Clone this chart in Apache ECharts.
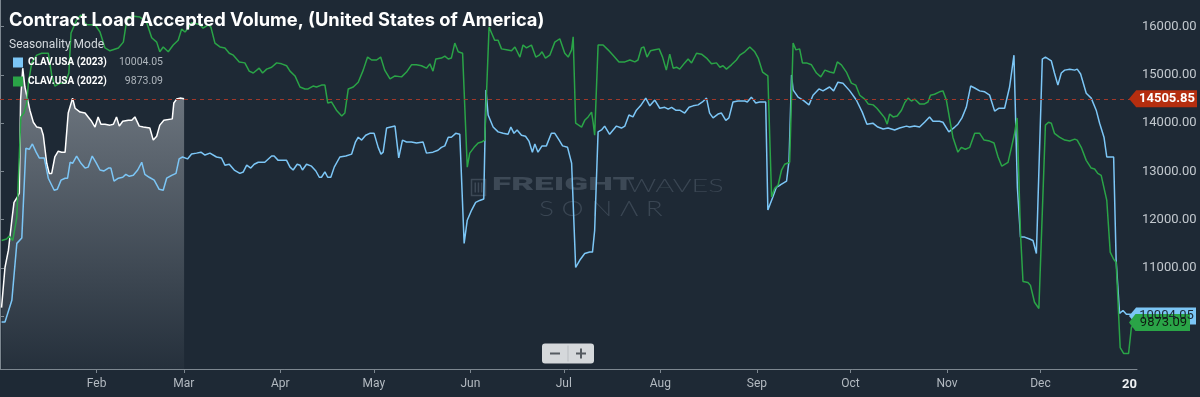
<!DOCTYPE html>
<html>
<head>
<meta charset="utf-8">
<title>Contract Load Accepted Volume</title>
<script src="https://cdn.jsdelivr.net/npm/echarts@6/dist/echarts.min.js"></script>
<style>
  html, body { margin: 0; padding: 0; background: #1e2935; }
  #chart { width: 1200px; height: 397px; }
</style>
</head>
<body>
<div id="chart"></div>
<script>
  // day of year (0 = Jan 1) and value
  const clav2024 = [
    [0.5,10180],[1.6,11010],[2.7,11370],[3.8,11990],[4.5,12360],[5.4,12450],[6.2,12550],[6.6,14480],[7.3,15140],[8,14750],
    [8.9,14480],[9.6,14270],[10.7,14020],[11.8,13920],[13.2,13900],[13.9,13750],[15,13170],[15.8,12960],[16.6,12960],[17.6,13300],
    [18.7,13420],[19.8,13400],[20.9,13400],[21.9,14210],[23.3,14520],[24.1,14310],[25.7,14230],[27.3,14210],[28.3,14130],[29.4,14040],
    [30.5,13920],[31.5,14130],[32.4,13980],[33.7,13980],[35.3,13960],[36.4,13980],[37.4,14130],[38.3,13940],[39.4,14040],[41.2,14060],
    [42.3,14060],[43.3,14130],[44.7,13940],[46,13920],[48.1,13900],[49.2,13650],[50.3,13730],[51.3,13960],[52.6,14060],[55.3,14090],
    [55.8,14420],[56.7,14500],[57.8,14520],[59.1,14505.85]
  ];

  const clav2023 = [
    [0.5,9880],[1.6,9880],[3.8,10330],[5.4,11510],[7,11620],[7.5,11640],[8.3,13480],[9.4,13460],[10.4,13570],[11.6,13400],
    [12.6,13280],[14.2,13280],[15.5,12860],[17.4,12610],[18.4,12630],[19.6,12820],[20.9,12860],[21.7,12860],[22.5,13190],[23.3,13170],
    [24.6,13320],[26,13170],[27.3,13070],[28.3,13090],[29.6,13320],[30.8,13190],[32.1,13030],[33.4,13010],[34.8,13070],[35.6,13070],
    [36.6,12800],[38,12860],[39.4,12880],[40.4,12940],[41.5,12900],[42.8,12920],[44.2,13030],[45.5,13190],[46.5,12940],[47.9,12880],
    [49.5,12820],[51.1,12630],[52.4,12610],[53.5,12860],[55.1,12920],[56.5,12960],[57.5,13260],[58.6,13300],[60.2,13260],[61.5,13360],
    [63.1,13380],[64.5,13400],[65.8,13340],[67.4,13380],[69.5,13300],[71.1,13280],[72.2,13130],[73.6,13150],[75.2,13030],[77,12960],
    [78.1,12990],[79.2,13130],[80.5,13070],[81.6,13150],[82.9,13190],[85,13190],[87.2,13320],[88,13320],[89.3,13230],[92,13230],
    [93.1,13090],[94.1,13030],[95.4,13150],[96.3,13130],[97.1,13030],[98.4,13150],[100,13110],[101.4,13010],[102.5,12880],[103.2,12880],
    [104.3,12990],[105.2,12880],[106.2,12880],[107.3,13090],[109.1,13300],[111,13320],[112.9,13360],[114.1,13610],[115,13710],[116.1,13650],
    [117.4,13750],[118.7,13790],[120.1,13790],[121.4,13500],[122.3,13360],[123,13400],[124.1,13900],[126.8,13940],[127.3,13960],[128,13280],
    [129.2,13650],[130.5,13610],[132.1,13610],[133.7,13590],[135.8,13610],[136.9,13380],[139,13400],[140.6,13440],[141.7,13500],[142.8,13530],
    [143.9,13710],[144.9,13710],[146.3,13790],[147.6,13770],[148.2,13730],[149,11510],[150,11990],[151.4,12200],[152.7,12360],[154,12400],
    [155.3,12430],[156,14690],[156.7,14170],[158.3,13920],[159.9,13820],[161.5,13790],[163.1,13770],[164,13920],[165,13790],[166,13860],
    [167.4,13750],[168.7,13730],[169.8,13630],[170.9,13400],[171.7,13570],[172.7,13400],[174,13530],[175.4,13530],[177,13790],[178.1,13790],
    [179.5,13650],[180.6,13530],[182.2,13500],[183.5,13170],[184.8,11010],[186.1,11160],[187.7,11300],[189.3,11330],[190.2,11330],[190.9,11780],
    [192,13820],[193.1,13860],[194.1,13940],[195.7,13770],[197.9,13940],[199.5,13900],[200.6,13940],[201.9,14170],[203.2,14130],[204.3,14270],
    [205.6,14360],[207.3,14520],[208.6,14360],[210.2,14480],[211.8,14310],[213.4,14330],[214.5,14290],[215.6,14330],[216.9,14270],[218.2,14270],
    [219.8,14210],[221.2,14330],[222.5,14360],[224.1,14380],[225.5,14440],[226.8,14520],[227.8,14210],[228.9,14110],[230.5,14190],[231.6,14210],
    [233,14060],[234,14110],[235.3,14440],[236.9,14460],[239.1,14460],[239.9,14440],[241.2,14540],[242.6,14420],[243.9,14440],[245.8,14440],
    [246.5,12200],[248.1,12470],[249.2,12670],[250.5,12720],[252.5,12800],[253.3,13230],[254.1,15000],[254.6,14690],[256.2,14540],[257.8,14480],
    [259.7,14380],[261,14580],[262.9,14710],[264.2,14670],[266.3,14750],[267.6,14670],[269,14850],[270.6,14830],[272.8,14670],[274.9,14480],
    [276.8,14230],[278.3,13980],[280.2,14000],[281.8,13920],[283.5,13880],[285.1,13900],[287.2,13860],[288.8,13900],[291,13940],[292,13920],
    [293.6,13940],[295.2,13920],[296.8,14020],[298.4,14130],[299.5,14040],[301.6,14040],[302.7,14020],[304.6,13820],[306.5,13920],[307.5,13980],
    [308.8,14110],[310.2,14330],[311.6,14770],[312.9,14730],[314.5,14670],[316.1,14650],[317.7,14580],[319.3,14250],[320.7,14310],[322.5,14310],
    [324.1,14750],[325.5,15410],[326.6,12670],[327.6,11640],[328.9,11640],[330.5,11600],[331.6,11570],[332.7,11300],[334.6,15330],[335.6,15370],
    [337.5,15290],[338.5,15040],[339.6,14790],[340.7,15040],[341.8,15100],[343.4,15120],[345,15100],[345.8,15120],[346.9,15020],[348.7,14620],
    [350.3,14520],[351.9,14270],[353,14000],[354.4,13710],[355.3,13300],[357.5,13300],[358.3,11160],[359.4,10060],[360.5,10120],[361.6,10040],
    [362.8,10040],[364.8,10004.05]
  ];

  const clav2022 = [
    [0.5,11570],[2.1,11600],[3,11660],[4.1,11570],[5.4,12050],[6.7,14130],[7.7,14210],[8.6,14420],[9.1,14830],[10.2,15250],
    [11.8,15410],[13.4,15450],[15.5,15450],[16.6,15000],[17.6,14770],[19.3,14830],[20.9,14830],[22.1,15040],[22.8,15870],[24.6,16140],
    [26,16240],[27.6,16040],[30.5,16040],[32.1,15890],[33.7,15560],[35.3,15500],[38,15560],[39.6,15680],[40.7,16140],[42.3,16220],
    [44.9,16200],[47.1,16080],[48.7,15770],[50.3,15680],[51.3,15480],[52.4,15580],[54,15480],[55.6,15620],[57.2,15720],[58.3,15950],
    [59.4,15890],[60.4,15970],[61.5,16080],[63.1,16060],[64.2,16040],[65.2,15970],[66.8,16040],[67.7,15990],[69,15660],[70.6,15580],
    [72.2,15560],[73.6,15450],[74.9,15410],[76.8,15270],[78.6,15250],[80,15080],[81.3,15040],[83.2,15140],[84.3,15040],[85.6,15120],
    [87.2,15160],[88.8,15250],[90.4,15230],[92,15190],[93.1,15080],[94.7,14980],[96.3,14750],[97.9,14710],[98.9,14710],[100.5,14770],
    [101.6,14750],[103.2,14790],[104.3,14790],[105.2,14420],[106.4,14440],[108,14270],[109.7,14150],[110.7,14210],[111.8,14710],[113.4,14750],
    [115,14850],[116.6,15100],[118,15370],[119.3,15310],[120.9,15310],[122.2,15370],[123.5,15100],[125.2,14920],[126.8,14980],[128.9,14960],
    [130.5,15060],[132.1,15210],[133.7,15210],[135.3,15190],[136.9,15140],[138,15230],[139,15080],[139.9,15330],[141.7,15350],[142.8,15390],
    [143.9,15330],[144.9,15350],[146,15660],[147.1,15480],[148.5,15450],[150,13090],[150.8,13380],[152.2,13500],[153.5,13590],[154.6,13610],
    [155.6,13650],[157,15990],[157.8,15870],[158.8,15720],[159.9,15720],[161,15540],[162.6,15520],[164.2,15500],[165.3,15580],[166.9,15370],
    [167.9,15620],[169,15560],[170.6,15620],[172,15370],[173.1,15410],[174,15480],[175.1,15350],[176.5,15410],[178.1,15680],[179.7,15750],
    [181.3,15450],[182.4,15370],[183.5,15520],[184,15790],[184.8,14000],[186.7,13920],[187.7,14060],[188.8,14130],[189.9,14230],[190.4,14020],
    [190.9,13750],[192,15620],[193.6,15620],[195.2,15520],[196.8,15410],[198.7,15270],[200.6,15270],[202.2,15310],[203.8,15270],[204.8,15310],
    [205.9,15560],[206.7,15580],[207.7,15370],[208.8,15500],[210.2,15520],[211.6,15540],[212.7,15370],[213.9,15100],[215,15430],[216.1,15140],
    [217.2,15160],[218.2,15120],[219.8,15250],[220.9,15330],[222,15250],[223.6,15450],[225.2,15430],[226.8,15350],[228.4,15230],[230,15250],
    [231.1,15160],[232.1,15190],[233.2,15120],[234.8,15210],[236.4,15310],[237.5,15410],[239.1,15480],[240.7,15580],[242.3,15480],[243.4,15350],
    [244.8,15060],[246.5,14980],[247.7,12470],[248.7,12650],[249.8,12720],[250.9,13030],[251.9,13150],[253.5,13190],[254.6,15660],[255.5,15520],
    [256.7,15540],[257.6,15250],[258.9,15250],[260.5,15210],[262.1,15040],[263.5,14960],[264.8,15100],[266.4,15060],[267.7,15040],[268.8,15270],
    [270.1,15210],[271.7,15060],[273.3,14830],[274.7,14790],[276,14580],[277.6,14500],[278.7,14400],[280.3,14380],[281.5,14310],[283,14190],
    [284,14110],[284.8,13980],[285.6,14190],[286.7,14130],[288,14150],[289.4,14270],[290.4,14420],[291.5,14520],[292.6,14460],[293.6,14500],
    [295.2,14400],[296.8,14400],[297.9,14440],[298.7,14580],[300,14600],[301.6,14650],[302.7,14670],[303.8,14480],[304.8,14110],[305.9,13710],
    [307.5,13400],[308.6,13500],[309.9,13460],[311.3,13500],[312.9,13790],[314.5,13790],[315.9,13650],[317.7,13630],[319.1,13590],[320.4,13300],
    [321.6,13110],[323.6,13190],[324.7,13500],[325.7,13790],[326.5,14110],[327.6,11720],[328.4,10720],[330,10700],[330.8,10640],[332.1,10290],
    [333.5,10160],[335.6,13960],[336.6,14020],[337.5,14000],[338.5,13790],[340.1,13710],[341.8,13650],[343.4,13630],[345,13670],[345.8,13650],
    [347.1,13500],[348.7,13230],[350.3,13070],[351.4,13050],[352.4,12960],[353.5,12920],[355.3,12400],[356.4,11330],[357.5,11180],[358.3,11120],
    [359.6,9350],[360.7,9230],[362.3,9230],[363.2,9770],[364.8,9873.09]
  ];

  const monthTickDays = [31, 59, 90, 120, 151, 181, 212, 243, 273, 304, 334];
  const monthTickLabels = ['Feb', 'Mar', 'Apr', 'May', 'Jun', 'Jul', 'Aug', 'Sep', 'Oct', 'Nov', 'Dec'];
  const yearLabelDay = 362.6;
  const yearLabel = '20';
  const yTickValues = [10000, 11000, 12000, 13000, 14000, 15000, 16000];

  const name2023 = 'CLAV.USA (2023)';
  const name2022 = 'CLAV.USA (2022)';
  const name2024 = 'CLAV.USA (2024)';

  const last = arr => arr[arr.length - 1][1];
  const lastLabels = {};
  lastLabels[name2023] = last(clav2023).toFixed(2);
  lastLabels[name2022] = last(clav2022).toFixed(2);

  const tagPath = 'path://M0,8.5L7,0L66,0L66,17L7,17Z';

  function tag(value, bg, fg, w, bold) {
    return {
      symbol: tagPath,
      symbolSize: [w, 17],
      symbolOffset: [w / 2 - 8, 0],
      silent: true,
      animation: false,
      itemStyle: { color: bg },
      label: {
        show: true,
        position: 'inside',
        offset: [4, 0],
        color: fg,
        fontSize: 13,
        fontWeight: bold ? 'bold' : 'normal',
        fontFamily: 'Roboto',
        formatter: () => value.toFixed(2)
      },
      data: [{ coord: [365, value] }]
    };
  }

  const chart = echarts.init(document.getElementById('chart'));

  const option = {
    backgroundColor: '#1e2935',
    animation: false,
    title: [{
      text: 'Contract Load Accepted Volume, (United States of America)',
      left: 4,
      top: 7,
      textStyle: { color: '#ffffff', fontSize: 18.3, fontWeight: 'bold', fontFamily: 'Inter' }
    }, {
      text: 'Seasonality Mode',
      left: 4,
      top: 34,
      textStyle: { color: '#d3d8dd', fontSize: 12, fontWeight: 'normal', fontFamily: 'Roboto' }
    }],
    legend: {
      data: [name2023, name2022],
      orient: 'vertical',
      left: 8,
      top: 52,
      itemWidth: 10,
      itemHeight: 10,
      itemGap: 8,
      icon: 'rect',
      selectedMode: false,
      formatter: name => '{n|' + name + '}{v|' + lastLabels[name] + '}',
      textStyle: {
        rich: {
          n: { color: '#ffffff', fontSize: 10, fontWeight: 'bold', fontFamily: 'Roboto', width: 91 },
          v: { color: '#aeb5bc', fontSize: 10.5, fontFamily: 'Roboto', width: 44, align: 'right' }
        }
      }
    },
    grid: { left: 0, right: 63, top: 0, bottom: 28 },
    xAxis: {
      type: 'value',
      min: 0,
      max: 365,
      splitLine: { show: false },
      axisLine: { show: true, lineStyle: { color: '#7d8790', width: 1 } },
      axisTick: { show: true, customValues: monthTickDays, length: 4, lineStyle: { color: '#7d8790' } },
      axisLabel: {
        customValues: monthTickDays.concat([yearLabelDay]),
        margin: 9,
        color: '#b3bac1',
        fontSize: 12,
        fontFamily: 'Roboto',
        formatter: v => {
          if (v === yearLabelDay) return '{b|' + yearLabel + '}';
          const i = monthTickDays.indexOf(v);
          return i >= 0 ? monthTickLabels[i] : '';
        },
        rich: { b: { color: '#eef0f2', fontSize: 13, fontWeight: 'bold', fontFamily: 'Roboto' } }
      }
    },
    yAxis: {
      type: 'value',
      position: 'right',
      min: 8907,
      max: 16553,
      splitLine: { show: false },
      axisLine: { show: true, lineStyle: { color: '#7d8790', width: 1 } },
      axisTick: { show: true, customValues: yTickValues, length: 4, lineStyle: { color: '#7d8790' } },
      axisLabel: {
        customValues: yTickValues,
        margin: 5,
        color: '#c2c8ce',
        fontSize: 13,
        fontFamily: 'Roboto',
        formatter: v => v.toFixed(2)
      }
    },
    series: [{
      name: name2024,
      type: 'line',
      data: clav2024,
      showSymbol: false,
      lineStyle: { color: '#ffffff', width: 1.5 },
      itemStyle: { color: '#ffffff' },
      areaStyle: {
        origin: 'start',
        color: new echarts.graphic.LinearGradient(0, 0, 0, 1, [
          { offset: 0, color: 'rgba(225,230,235,0.62)' },
          { offset: 1, color: 'rgba(225,230,235,0.05)' }
        ])
      },
      markLine: {
        silent: true,
        symbol: 'none',
        animation: false,
        label: { show: false },
        lineStyle: { color: '#a0382a', type: [4, 4], width: 1 },
        data: [{ yAxis: last(clav2024) }]
      },
      markPoint: tag(last(clav2024), '#b52e0f', '#ffffff', 68, true)
    }, {
      name: name2023,
      type: 'line',
      data: clav2023,
      showSymbol: false,
      lineStyle: { color: '#7cc6f6', width: 1.5 },
      itemStyle: { color: '#7cc6f6' },
      markPoint: tag(last(clav2023), '#7cc6f6', '#1b2733', 67, false)
    }, {
      name: name2022,
      type: 'line',
      data: clav2022,
      showSymbol: false,
      lineStyle: { color: '#2aa447', width: 1.5 },
      itemStyle: { color: '#2aa447' },
      markPoint: tag(last(clav2022), '#2aa447', '#0f1c12', 61, false)
    }],
    graphic: [
      // watermark
      {
        type: 'group', left: 469, top: 177, silent: true, z: 0,
        children: [
          { type: 'rect', shape: { x: 0, y: 0, width: 14, height: 16 }, style: { fill: 'none', stroke: '#3d4956', lineWidth: 1.5 } },
          { type: 'rect', shape: { x: 3, y: 3, width: 1.5, height: 10 }, style: { fill: '#3d4956' } },
          { type: 'rect', shape: { x: 6.2, y: 3, width: 1.5, height: 10 }, style: { fill: '#3d4956' } },
          { type: 'rect', shape: { x: 9.4, y: 3, width: 1.5, height: 10 }, style: { fill: '#3d4956' } }
        ]
      },
      {
        type: 'text', left: 492, top: 176, silent: true, z: 0, scaleX: 1.95,
        style: { text: 'FREIGHT', fill: '#3d4956', font: '900 18px Roboto' }
      },
      {
        type: 'text', left: 627, top: 177, silent: true, z: 0, scaleX: 1.6,
        style: { text: 'WAVES', fill: '#3a4653', font: '300 18px Lato' }
      },
      {
        type: 'text', left: 539, top: 199, silent: true, z: 0, scaleX: 1.33,
        style: { text: 'S O N Λ R', fill: '#3a4653', font: '300 21px Lato' }
      },
      // zoom buttons
      {
        type: 'group', left: 542, top: 343, silent: true,
        children: [
          { type: 'rect', shape: { x: 0, y: 0, width: 52, height: 20, r: 3 }, style: { fill: '#d5d8db' } },
          { type: 'line', shape: { x1: 26, y1: 2, x2: 26, y2: 18 }, style: { stroke: '#b9bdc1', lineWidth: 1 } },
          { type: 'rect', shape: { x: 8, y: 9, width: 10, height: 2 }, style: { fill: '#555b61' } },
          { type: 'rect', shape: { x: 34, y: 9, width: 10, height: 2 }, style: { fill: '#555b61' } },
          { type: 'rect', shape: { x: 38, y: 5, width: 2, height: 10 }, style: { fill: '#555b61' } }
        ]
      }
    ]
  };

  chart.setOption(option);
</script>
</body>
</html>
